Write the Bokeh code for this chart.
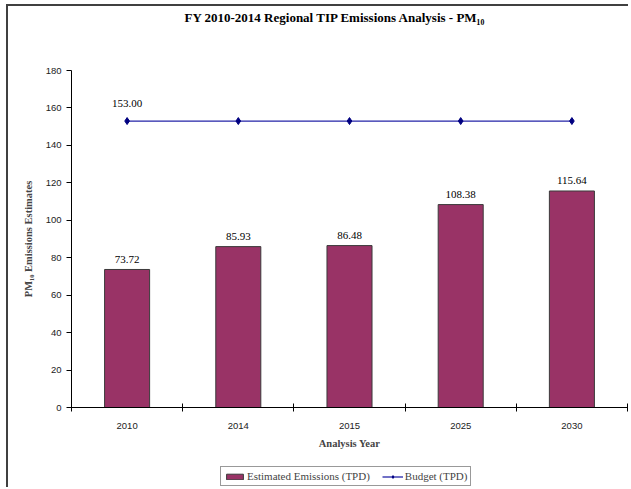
from bokeh.plotting import figure
from bokeh.layouts import column
from bokeh.models import ColumnDataSource, FixedTicker, Legend, LegendItem, Range1d
from bokeh.core.properties import value
from bokeh.embed import file_html
from bokeh.resources import INLINE

# ---- data ----
years = ["2010", "2014", "2015", "2025", "2030"]
emissions = [73.72, 85.93, 86.48, 108.38, 115.64]
budget = [153.00, 153.00, 153.00, 153.00, 153.00]
y_ticks = [0, 20, 40, 60, 80, 100, 120, 140, 160, 180]
title_text = "FY 2010-2014 Regional TIP Emissions Analysis - PM\u2081\u2080"

SERIF = "Liberation Serif"
SANS = "Liberation Sans"
W = 620
BL, BR = 63, 1            # left / right borders shared by all strips
FW = W - BL - BR          # frame width in px

xpos = [i + 0.5 for i in range(len(years))]
src = ColumnDataSource(dict(x=xpos, em=emissions, bud=budget,
                            em_lbl=[f"{v:.2f}" for v in emissions]))
bud_lbl = ColumnDataSource(dict(x=[xpos[0]], y=[budget[0]], t=[f"{budget[0]:.2f}"]))


def bare(fig, top=0, bottom=0):
    fig.background_fill_color = "white"
    fig.border_fill_color = "white"
    fig.outline_line_color = None
    fig.min_border_left = BL
    fig.min_border_right = BR
    fig.min_border_top = top
    fig.min_border_bottom = bottom


# ---- title strip ----
tf = figure(width=W, height=35, output_backend="svg", toolbar_location=None,
            x_range=Range1d(0, FW), y_range=Range1d(0, 35),
            x_axis_type=None, y_axis_type=None)
bare(tf)
tf.grid.visible = False
tf.text(x=[FW / 2 - 14], y=[24], text=[title_text], text_align="center",
        text_baseline="middle", text_font=value(SERIF), text_font_style="bold",
        text_font_size="13px", text_color="black")

# ---- main chart ----
p = figure(width=W, height=420, output_backend="svg", toolbar_location=None,
           x_range=Range1d(0, len(years)), y_range=Range1d(0, 180))
bare(p, top=29, bottom=54)
p.grid.visible = False

bars = p.vbar(x="x", top="em", width=0.405, source=src,
              fill_color="#993366", line_color="#3a3a3a", line_width=1)
p.line(x="x", y="bud", source=src, line_color="#2424a8", line_width=1.3)
p.scatter(x="x", y="bud", source=src, marker="diamond", size=7,
          fill_color="#000080", line_color="#000080")

p.text(x="x", y="em", text="em_lbl", source=src, y_offset=-10,
       text_align="center", text_baseline="alphabetic",
       text_font=value(SERIF), text_font_size="11px", text_color="black")
p.text(x="x", y="y", text="t", source=bud_lbl, y_offset=-18,
       text_align="center", text_baseline="alphabetic",
       text_font=value(SERIF), text_font_size="11px", text_color="black")

ya = p.yaxis[0]
ya.ticker = FixedTicker(ticks=y_ticks)
ya.minor_tick_line_color = None
ya.major_tick_in = 0
ya.major_tick_out = 5
ya.axis_line_color = "black"
ya.major_tick_line_color = "black"
ya.major_label_text_font = SANS
ya.major_label_text_font_size = "9.5px"
ya.major_label_text_color = "#222222"
ya.major_label_standoff = 5
ya.axis_label = "PM\u2081\u2080 Emissions Estimates"
ya.axis_label_text_font = SERIF
ya.axis_label_text_font_style = "bold"
ya.axis_label_text_font_size = "10.5px"
ya.axis_label_standoff = 9

xa = p.xaxis[0]
xa.ticker = FixedTicker(ticks=xpos, minor_ticks=list(range(len(years) + 1)))
xa.major_label_overrides = {x: y for x, y in zip(xpos, years)}
xa.major_tick_line_color = None
xa.minor_tick_line_color = "black"
xa.minor_tick_in = 4
xa.minor_tick_out = 4
xa.axis_line_color = "black"
xa.major_label_text_font = SANS
xa.major_label_text_font_size = "9.5px"
xa.major_label_text_color = "#222222"
xa.major_label_standoff = 9
xa.axis_label = "Analysis Year"
xa.axis_label_text_font = SERIF
xa.axis_label_text_font_style = "bold"
xa.axis_label_text_font_size = "10.5px"
xa.axis_label_standoff = 6

# ---- legend strip (swatch glyphs kept outside the visible range) ----
lf = figure(width=W, height=26, output_backend="svg", toolbar_location=None,
            x_range=Range1d(0, 1), y_range=Range1d(0, 1),
            x_axis_type=None, y_axis_type=None)
bare(lf)
lf.grid.visible = False
hidden = ColumnDataSource(dict(x=[-10.0], y=[-10.0]))
lb = lf.vbar(x="x", top="y", width=0.4, source=hidden,
             fill_color="#993366", line_color="#3a3a3a", line_width=1)
ll = lf.line(x="x", y="y", source=hidden, line_color="#2424a8", line_width=1.3)
lm = lf.scatter(x="x", y="y", source=hidden, marker="diamond", size=7,
                fill_color="#000080", line_color="#000080")
legend = Legend(items=[LegendItem(label="Estimated Emissions (TPD)", renderers=[lb]),
                       LegendItem(label="Budget (TPD)", renderers=[ll, lm])],
                orientation="horizontal", location=(149, 1))
legend.label_text_font = SERIF
legend.label_text_font_size = "11px"
legend.label_standoff = 2
legend.glyph_width = 21
legend.glyph_height = 7
legend.padding = 3
legend.spacing = 12
legend.margin = 0
legend.border_line_color = "#333333"
legend.border_line_width = 1
legend.background_fill_color = "white"
legend.background_fill_alpha = 1
lf.add_layout(legend, "center")

lay = column(tf, p, lf, spacing=0)
lay.styles = {"margin-left": "6px", "margin-top": "4px",
              "border-left": "2px solid #404040", "border-top": "2px solid #404040"}

open("out.html", "w").write(file_html(lay, INLINE))
